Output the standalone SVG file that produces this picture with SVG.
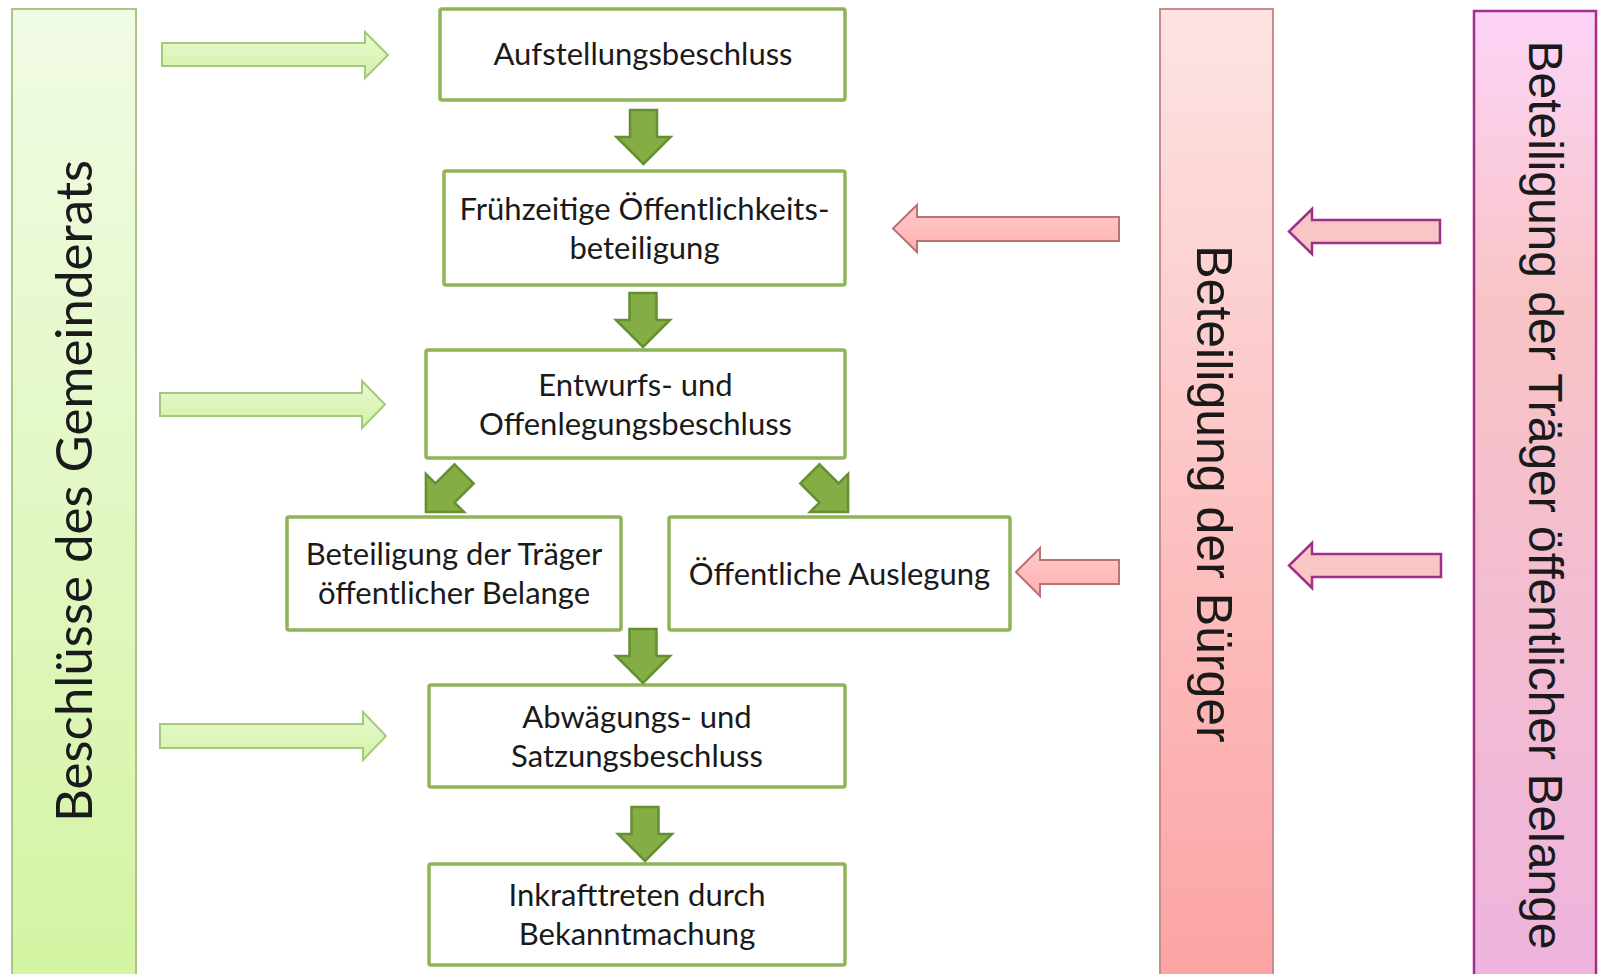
<svg xmlns="http://www.w3.org/2000/svg" width="1598" height="974" viewBox="0 0 1598 974">
  <defs>
    <linearGradient id="gGreenBand" x1="0" y1="0" x2="0" y2="1">
      <stop offset="0" stop-color="#f1fbe5"/>
      <stop offset="1" stop-color="#d3f4a2"/>
    </linearGradient>
    <linearGradient id="gRedBand" x1="0" y1="0" x2="0" y2="1">
      <stop offset="0" stop-color="#fde3e3"/>
      <stop offset="1" stop-color="#fca3a3"/>
    </linearGradient>
    <linearGradient id="gPinkBand" x1="0" y1="0" x2="0" y2="1">
      <stop offset="0" stop-color="#fdd4f8"/>
      <stop offset="0.3" stop-color="#f8c4c6"/>
      <stop offset="1" stop-color="#eeb4de"/>
    </linearGradient>
    <linearGradient id="gGreenArrow" x1="0" y1="0" x2="0" y2="1">
      <stop offset="0" stop-color="#e9f9d2"/>
      <stop offset="1" stop-color="#d2f2a6"/>
    </linearGradient>
    <linearGradient id="gRedArrow" x1="0" y1="0" x2="0" y2="1">
      <stop offset="0" stop-color="#ffcaca"/>
      <stop offset="1" stop-color="#ffb0b0"/>
    </linearGradient>
    <path id="downArrow" d="M-13.5,-27 H13.5 V0 H27 L0,27 L-27,0 H-13.5 Z"/>
    <style>
      .box { fill: #ffffff; stroke: #8fb357; stroke-width: 3.5; }
      .lbl { font-family: Lato, "Liberation Sans", sans-serif; font-size: 31px; fill: #1a1a1a; text-anchor: middle; }
      .flow { fill: #84ae45; stroke: #678f32; stroke-width: 2.5; stroke-linejoin: miter; }
      .garrow { fill: url(#gGreenArrow); stroke: #a5c97c; stroke-width: 2; }
      .rarrow { fill: url(#gRedArrow); stroke: #b87373; stroke-width: 2; }
      .parrow { fill: #f9c6c6; stroke: #a12e88; stroke-width: 2.5; }
      .band-text-a { font-family: "Liberation Sans", Arial, sans-serif; fill: #1a1a1a; text-anchor: middle; }
      .band-text-c { font-family: Lato, "Liberation Sans", sans-serif; fill: #1a1a1a; text-anchor: middle; }
    </style>
  </defs>
  <rect width="1598" height="974" fill="#ffffff"/>

  <!-- Side bands -->
  <g id="band-gemeinderat">
    <rect x="12" y="9" width="124" height="975" fill="url(#gGreenBand)" stroke="#a8c882" stroke-width="2"/>
    <text class="band-text-c" font-size="51" transform="translate(92,491) rotate(-90)">Beschlüsse des Gemeinderats</text>
  </g>
  <g id="band-buerger">
    <rect x="1160" y="9" width="113" height="975" fill="url(#gRedBand)" stroke="#c98b8b" stroke-width="2"/>
    <text class="band-text-a" font-size="50" transform="translate(1197,494) rotate(90)">Beteiligung der Bürger</text>
  </g>
  <g id="band-traeger">
    <rect x="1474" y="11" width="122" height="975" fill="url(#gPinkBand)" stroke="#a12e88" stroke-width="2.5"/>
    <text class="band-text-a" font-size="48" transform="translate(1529,495) rotate(90)">Beteiligung der Träger öffentlicher Belange</text>
  </g>

  <!-- Nodes -->
  <g id="n-aufstellung">
    <rect class="box" x="440" y="9" width="405" height="91" rx="2"/>
    <text class="lbl" x="643" y="65">Aufstellungsbeschluss</text>
  </g>
  <g id="n-fruehzeitig">
    <rect class="box" x="444" y="171" width="401" height="114" rx="2"/>
    <text class="lbl" x="644.5" y="220">Frühzeitige Öffentlichkeits-</text>
    <text class="lbl" x="644.5" y="259">beteiligung</text>
  </g>
  <g id="n-entwurf">
    <rect class="box" x="426" y="350" width="419" height="108" rx="2"/>
    <text class="lbl" x="635.5" y="396">Entwurfs- und</text>
    <text class="lbl" x="635.5" y="435">Offenlegungsbeschluss</text>
  </g>
  <g id="n-traeger">
    <rect class="box" x="287" y="517" width="334" height="113" rx="2"/>
    <text class="lbl" x="454" y="565">Beteiligung der Träger</text>
    <text class="lbl" x="454" y="604">öffentlicher Belange</text>
  </g>
  <g id="n-auslegung">
    <rect class="box" x="669" y="517" width="341" height="113" rx="2"/>
    <text class="lbl" x="839.5" y="585">Öffentliche Auslegung</text>
  </g>
  <g id="n-abwaegung">
    <rect class="box" x="429" y="685" width="416" height="102" rx="2"/>
    <text class="lbl" x="637" y="728">Abwägungs- und</text>
    <text class="lbl" x="637" y="767">Satzungsbeschluss</text>
  </g>
  <g id="n-inkraft">
    <rect class="box" x="429" y="864" width="416" height="101" rx="2"/>
    <text class="lbl" x="637" y="906">Inkrafttreten durch</text>
    <text class="lbl" x="637" y="945">Bekanntmachung</text>
  </g>

  <!-- Connectors -->
  <g id="connectors">
    <use href="#downArrow" class="flow" transform="translate(643.5,137)"/>
    <use href="#downArrow" class="flow" transform="translate(643,320)"/>
    <use href="#downArrow" class="flow" transform="translate(445,493) rotate(45)"/>
    <use href="#downArrow" class="flow" transform="translate(829,493) rotate(-45)"/>
    <use href="#downArrow" class="flow" transform="translate(643,656)"/>
    <use href="#downArrow" class="flow" transform="translate(645,834)"/>

    <path class="garrow" d="M162,43 H365 V32 L388,55 L365,78 V66 H162 Z"/>
    <path class="garrow" d="M160,393 H362 V381 L385,404.5 L362,428 V416 H160 Z"/>
    <path class="garrow" d="M160,724 H363 V712 L386,736 L363,760 V748 H160 Z"/>

    <path class="rarrow" d="M1119,217 V241 H917 V252 L893,228.5 L917,205 V217 Z"/>
    <path class="rarrow" d="M1119,560 V584 H1040 V596 L1016,572 L1040,548 V560 Z"/>

    <path class="parrow" d="M1440,220 V243 H1312 V254 L1289,231.5 L1312,209 V220 Z"/>
    <path class="parrow" d="M1441,554 V577 H1312 V588 L1289,565.5 L1312,543 V554 Z"/>
  </g>
</svg>
